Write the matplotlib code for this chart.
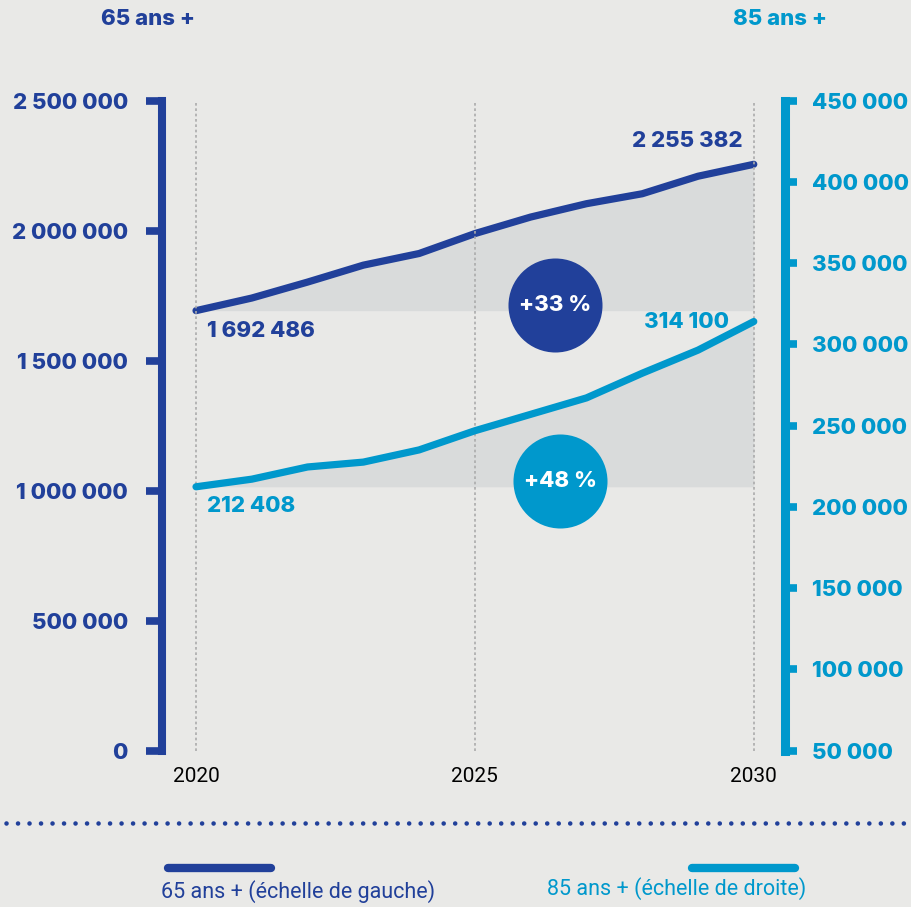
import matplotlib

matplotlib.use("Agg")
import matplotlib.pyplot as plt
from matplotlib.lines import Line2D

# data
years = [2020, 2021, 2022, 2023, 2024, 2025, 2026, 2027, 2028, 2029, 2030]
pop_65 = [1692486, 1741000, 1802400, 1867500, 1912300, 1988900,
          2052500, 2103800, 2142100, 2209500, 2255382]
pop_85 = [212408, 217100, 224600, 227600, 235100, 246900,
          257000, 267100, 282300, 296500, 314100]
left_ticks = [0, 500000, 1000000, 1500000, 2000000, 2500000]
right_ticks = [50000, 100000, 150000, 200000, 250000, 300000, 350000, 400000, 450000]
year_ticks = [2020, 2025, 2030]
growth_65 = "+33 %"
growth_85 = "+48 %"
title_65 = "65 ans +"
title_85 = "85 ans +"
legend_65 = "65 ans + (échelle de gauche)"
legend_85 = "85 ans + (échelle de droite)"

DARK = "#21409a"
CYAN = "#0098cc"
BG = "#e9e9e7"
FILL = "#d9dbdb"
GRID = "#ababab"
BOLD = "Inter"
REG = "Roboto"
W = 800


def fmt(v):
    return f"{v:,}".replace(",", " ")


fig = plt.figure(figsize=(9.12, 9.07), dpi=100, facecolor=BG)
ax = fig.add_axes([162 / 912, 156.3 / 907, 623 / 912, 650 / 907])
ax.set_facecolor(BG)
ax2 = ax.twinx()

ax.set_xlim(2019.39, 2030.56)
ax.set_ylim(0, 2500000)
ax2.set_ylim(50000, 450000)

# shaded growth areas
ax.fill_between(years, pop_65[0], pop_65, color=FILL, lw=0, zorder=1)
ax2.fill_between(years, pop_85[0], pop_85, color=FILL, lw=0, zorder=1)

for y in year_ticks:
    ax2.axvline(y, color=GRID, lw=1.2, ls=(0, (1.6, 1.6)), zorder=1.5)

ax.plot(years, pop_65, color=DARK, lw=5.2, solid_capstyle="round", zorder=3)
ax2.plot(years, pop_85, color=CYAN, lw=5.2, solid_capstyle="round", zorder=3)

# end labels
lab = dict(fontfamily=BOLD, fontweight=W, fontsize=16, va="center",
           textcoords="offset points")
ax.annotate(fmt(pop_65[0]), (years[0], pop_65[0]), xytext=(8, -15),
            ha="left", color=DARK, **lab)
ax.annotate(fmt(pop_65[-1]), (years[-1], pop_65[-1]), xytext=(-8, 17),
            ha="right", color=DARK, **lab)
ax2.annotate(fmt(pop_85[0]), (years[0], pop_85[0]), xytext=(8, -14),
             ha="left", color=CYAN, **lab)
ax2.annotate(fmt(pop_85[-1]), (years[-1], pop_85[-1]), xytext=(-18, 0),
             ha="right", color=CYAN, **lab)

# growth badges
for (xf, yf), txt, col in [((0.631, 0.686), growth_65, DARK),
                           ((0.639, 0.415), growth_85, CYAN)]:
    ax2.scatter([xf], [yf], s=4583, color=col, lw=0, transform=ax2.transAxes,
                zorder=4, clip_on=False)
    ax2.text(xf, yf, txt, transform=ax2.transAxes, ha="center", va="center",
             color="white", fontfamily=BOLD, fontweight=W, fontsize=16,
             zorder=5)

# axes styling
for s in ["top", "right", "bottom"]:
    ax.spines[s].set_visible(False)
for s in ["top", "left", "bottom"]:
    ax2.spines[s].set_visible(False)
ax.spines["left"].set_color(DARK)
ax.spines["left"].set_linewidth(5.8)
ax2.spines["right"].set_color(CYAN)
ax2.spines["right"].set_linewidth(6.5)

ax.set_yticks(left_ticks)
ax.set_yticklabels([fmt(v) for v in left_ticks], fontfamily=BOLD,
                   fontweight=W, fontsize=16, color=DARK)
ax.tick_params(axis="y", length=11.5, width=5.5, color=DARK, pad=13)
ax2.set_yticks(right_ticks)
ax2.set_yticklabels([fmt(v) for v in right_ticks], fontfamily=BOLD,
                    fontweight=W, fontsize=16, color=CYAN)
ax2.tick_params(axis="y", length=8.6, width=5.5, color=CYAN, pad=11)

ax.set_xticks(year_ticks)
ax.set_xticklabels([str(y) for y in year_ticks], fontfamily=REG, fontsize=15,
                   color="black")
ax.tick_params(axis="x", length=0, pad=12)

# titles above the axes
fig.text(148 / 912, 1 - 19 / 907, title_65, ha="center", va="center",
         color=DARK, fontfamily=BOLD, fontweight=W, fontsize=16)
fig.text(780 / 912, 1 - 19 / 907, title_85, ha="center", va="center",
         color=CYAN, fontfamily=BOLD, fontweight=W, fontsize=16)

# dotted separator
fig.add_artist(Line2D([6 / 912, 906 / 912], [1 - 823 / 907] * 2, color=DARK,
                      lw=3.3, ls=(0, (0.01, 2.5)), dash_capstyle="round"))

# legend
fig.add_artist(Line2D([168 / 912, 271 / 912], [1 - 868 / 907] * 2, color=DARK,
                      lw=6, solid_capstyle="round"))
fig.add_artist(Line2D([692 / 912, 795 / 912], [1 - 868 / 907] * 2, color=CYAN,
                      lw=6, solid_capstyle="round"))
fig.text(298 / 912, 1 - 892 / 907, legend_65, ha="center", va="center",
         color=DARK, fontfamily=REG, fontsize=15.5)
fig.text(677 / 912, 1 - 889 / 907, legend_85, ha="center", va="center",
         color=CYAN, fontfamily=REG, fontsize=15.5)

fig.savefig("out.png", dpi=100, facecolor=BG)
plt.close(fig)
